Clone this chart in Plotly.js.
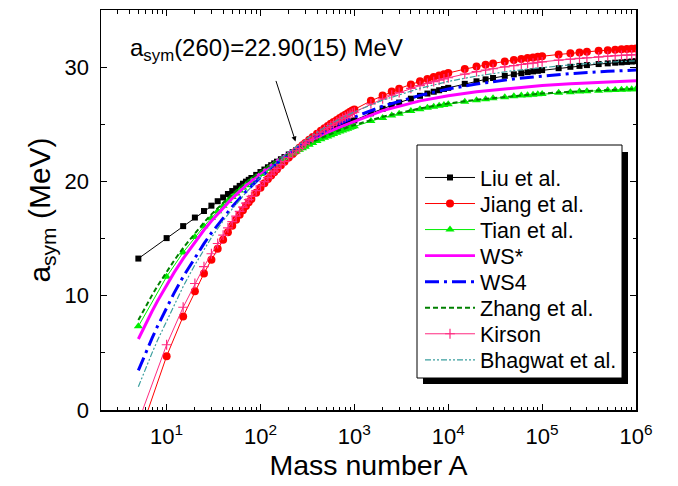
<!DOCTYPE html>
<html>
<head>
<meta charset="utf-8">
<script src="https://cdn.plot.ly/plotly-3.0.1.min.js"></script>
<style>
html,body{margin:0;padding:0;background:#fff;}
#chart{width:678px;height:486px;}
</style>
</head>
<body>
<div id="chart"></div>
<script>
// Mass numbers where the marker series are sampled
const A_mark = [5,10,15,20,25,30,35,40,45,50,55,60,65,70,75,80,90,100,110,120,130,140,150,165,180,200,220,240,260,280,300,330,360,400,440,480,520,560,600,650,700,750,800,850,900,950,1000,1500,2000,2500,3000,4000,5000,6000,7000,8000,9000,10000,15000,20000,25000,30000,40000,50000,60000,70000,80000,90000,100000,150000,200000,250000,300000,400000,500000,600000,700000,800000,900000,1000000];

const liu = [13.25,15.04,16.09,16.84,17.41,17.88,18.27,18.60,18.90,19.16,
  19.39,19.61,19.80,19.98,20.14,20.30,
  20.57,20.82,21.04,21.24,21.42,21.58,21.73,
  21.94,22.13,22.36,22.56,22.74,22.90,23.05,23.19,
  23.38,23.55,23.75,23.92,24.09,24.23,24.37,24.49,
  24.63,24.75,24.87,24.98,25.08,25.18,25.26,25.34,
  25.96,26.36,26.67,26.90,27.24,27.49,27.69,27.85,27.98,28.09,
  28.19,28.54,28.76,28.93,29.05,29.24,29.37,29.47,29.56,29.63,29.68,
  29.74,29.91,30.03,30.11,30.18,30.27,30.33,30.39,30.42,30.46,30.49,
  30.52];

const jiang = [-2.45,4.71,8.19,10.38,11.95,13.15,14.10,14.89,15.56,16.13,
  16.64,17.08,17.48,17.84,18.17,18.47,
  19.00,19.45,19.85,20.21,20.52,20.81,21.07,
  21.42,21.73,22.09,22.41,22.69,22.94,23.17,23.37,
  23.65,23.89,24.18,24.43,24.66,24.86,25.04,25.20,
  25.38,25.55,25.70,25.84,25.97,26.09,26.20,26.30,
  27.05,27.52,27.86,28.12,28.49,28.76,28.97,29.13,29.26,29.38,
  29.48,29.83,30.05,30.20,30.32,30.50,30.62,30.72,30.79,30.85,30.91,
  30.95,31.11,31.22,31.29,31.34,31.43,31.48,31.53,31.56,31.59,31.62,
  31.64];

const tian = [7.32,11.67,13.79,15.13,16.08,16.81,17.40,17.87,18.28,18.63,
  18.94,19.21,19.45,19.67,19.87,20.05,
  20.37,20.65,20.90,21.11,21.30,21.48,21.64,
  21.85,22.04,22.26,22.45,22.62,22.77,22.91,23.04,
  23.21,23.36,23.53,23.68,23.82,23.94,24.05,24.15,
  24.26,24.36,24.46,24.54,24.62,24.69,24.76,24.82,
  25.28,25.56,25.77,25.93,26.16,26.32,26.44,26.54,26.62,26.69,
  26.75,26.97,27.10,27.20,27.27,27.37,27.45,27.51,27.55,27.59,27.62,
  27.65,27.75,27.81,27.86,27.89,27.94,27.98,28.00,28.02,28.04,28.06,
  28.07];

const kirson = [-1.03,5.71,8.99,11.07,12.54,13.67,14.57,15.31,15.94,16.49,
  16.96,17.38,17.76,18.10,18.40,18.69,
  19.19,19.62,19.99,20.33,20.63,20.90,21.14,
  21.47,21.76,22.10,22.40,22.67,22.90,23.12,23.31,
  23.57,23.80,24.07,24.31,24.52,24.71,24.88,25.03,
  25.21,25.36,25.51,25.64,25.76,25.87,25.97,26.07,
  26.78,27.22,27.54,27.78,28.14,28.39,28.58,28.74,28.86,28.97,
  29.07,29.39,29.60,29.75,29.86,30.03,30.14,30.23,30.30,30.36,30.41,
  30.46,30.61,30.70,30.77,30.82,30.90,30.96,31.00,31.03,31.06,31.08,
  31.10];

// Mass numbers for the line-only series
const A_line = [5,6,7,8,10,12,15,20,25,30,40,50,70,100,150,200,300,500,700,1000,2000,5000,10000,20000,50000,100000,200000,500000,1000000];

const wsStar = [6.21,7.56,8.64,9.54,10.95,12.02,13.25,14.71,15.75,16.54,17.70,18.52,19.66,20.72,21.79,22.47,23.32,24.24,24.76,25.26,26.20,27.05,27.50,27.85,28.20,28.40,28.55,28.70,28.80];
const ws4 = [3.46,5.03,6.29,7.33,8.97,10.23,11.66,13.36,14.56,15.49,16.83,17.79,19.11,20.36,21.60,22.39,23.37,24.45,25.06,25.63,26.58,27.53,28.09,28.52,28.97,29.22,29.43,29.63,29.75];
const zhang = [7.87,9.08,10.05,10.85,12.11,13.07,14.18,15.48,16.41,17.12,18.16,18.90,19.91,20.87,21.83,22.43,23.19,24.01,24.49,24.93,25.66,26.39,26.82,27.15,27.49,27.69,27.85,28.01,28.10];
const bhagwat = [2.04,3.70,5.00,6.10,7.80,9.20,10.80,12.70,14.05,15.09,16.55,17.59,19.02,20.37,21.72,22.57,23.64,24.80,25.47,26.09,27.11,28.15,28.75,29.22,29.70,29.98,30.20,30.43,30.55];

const names = ['Liu et al.','Jiang et al.','Tian et al.','WS*','WS4','Zhang et al.','Kirson','Bhagwat et al.'];
const xTickVals = [10,100,1000,10000,100000,1000000];
const xTickText = ['10<sup>1</sup>','10<sup>2</sup>','10<sup>3</sup>','10<sup>4</sup>','10<sup>5</sup>','10<sup>6</sup>'];
const yTickVals = [0,10,20,30];

const minorX = [];
for (let e = 0; e < 6; e++) for (let d = 2; d <= 9; d++) minorX.push(d * Math.pow(10, e));

const FONT = 'Liberation Sans, Arial, Helvetica, sans-serif';
const legIds = ['legend','legend2','legend3','legend4','legend5','legend6','legend7','legend8'];

const traces = [
  {x: A_mark, y: liu, name: names[0], mode: 'lines+markers',
   line: {color: '#000000', width: 1}, marker: {symbol: 'square', size: 6, color: '#000000'}},
  {x: A_mark, y: jiang, name: names[1], mode: 'lines+markers',
   line: {color: '#ff0000', width: 1}, marker: {symbol: 'circle', size: 8, color: '#ff0000'}},
  {x: A_mark, y: tian, name: names[2], mode: 'lines+markers',
   line: {color: '#00ee00', width: 1}, marker: {symbol: 'triangle-up', size: 8, color: '#00ee00'}},
  {x: A_line, y: wsStar, name: names[3], mode: 'lines',
   line: {color: '#ff00ff', width: 3}},
  {x: A_line, y: ws4, name: names[4], mode: 'lines',
   line: {color: '#0000ff', width: 3, dash: '14px,5px,3px,5px'}},
  {x: A_line, y: zhang, name: names[5], mode: 'lines',
   line: {color: '#008000', width: 2, dash: '5px,3px'}},
  {x: A_mark, y: kirson, name: names[6], mode: 'lines+markers',
   line: {color: '#ff2a80', width: 1}, marker: {symbol: 'cross-thin', size: 7, color: '#ff2a80', line: {color: '#ff2a80', width: 1.2}}},
  {x: A_line, y: bhagwat, name: names[7], mode: 'lines',
   line: {color: '#3a9e9e', width: 1.2, dash: '6px,2px,2px,2px,2px,2px'}}
];
traces.forEach((t, i) => { t.legend = legIds[i]; });

const L = 101, R = 636, T = 10, B = 410;
const px = v => (v - L) / (R - L);
const py = v => (B - v) / (B - T);

const layout = {
  width: 678, height: 486,
  margin: {l: L, r: 678 - R, t: T, b: 486 - B},
  paper_bgcolor: '#ffffff', plot_bgcolor: '#ffffff',
  font: {family: FONT, color: '#000000'},
  showlegend: true,
  xaxis: {
    type: 'log', range: [Math.log10(2), 6],
    tickmode: 'array', tickvals: xTickVals, ticktext: xTickText,
    ticks: 'inside', ticklen: 6, tickwidth: 1, tickcolor: '#000',
    minor: {tickmode: 'array', tickvals: minorX, ticks: 'inside', ticklen: 3.5, tickwidth: 1, tickcolor: '#000', showgrid: false},
    showline: true, linecolor: '#000', linewidth: 1.5, mirror: 'ticks',
    showgrid: false, zeroline: false,
    tickfont: {size: 22, family: FONT}, ticklabelstandoff: 6,
    title: {text: 'Mass number A', font: {size: 28.5, family: FONT}, standoff: 7}
  },
  yaxis: {
    range: [0, 35],
    tickmode: 'array', tickvals: yTickVals,
    ticks: 'inside', ticklen: 6, tickwidth: 1, tickcolor: '#000',
    minor: {dtick: 5, ticks: 'inside', ticklen: 3.5, tickwidth: 1, tickcolor: '#000', showgrid: false},
    showline: true, linecolor: '#000', linewidth: 1.5, mirror: 'ticks',
    showgrid: false, zeroline: false,
    tickfont: {size: 22, family: FONT}, ticklabelstandoff: 6,
    title: {text: 'a<sub>sym</sub> (MeV)', font: {size: 30, family: FONT}, standoff: 5}
  },
  shapes: [
    {type: 'rect', xref: 'paper', yref: 'paper', x0: px(423), x1: px(628), y0: py(384), y1: py(152),
     fillcolor: '#000000', line: {width: 0}, layer: 'above'},
    {type: 'rect', xref: 'paper', yref: 'paper', x0: px(417), x1: px(622), y0: py(378), y1: py(145),
     fillcolor: '#ffffff', line: {color: '#000000', width: 1}, layer: 'above'}
  ],
  annotations: [
    {xref: 'paper', yref: 'paper', x: px(128), y: py(50), xanchor: 'left', yanchor: 'middle',
     text: 'a<sub>sym</sub>(260)=22.90(15) MeV', showarrow: false, font: {size: 24, family: FONT}},
    {xref: 'x', yref: 'y', x: Math.log10(236), y: 23.5, text: '', showarrow: true,
     axref: 'pixel', ayref: 'pixel', ax: -20, ay: -62,
     arrowhead: 2, arrowsize: 1, arrowwidth: 1, arrowcolor: '#000', standoff: 0, startstandoff: 0}
  ]
};

legIds.forEach((id, i) => {
  layout[id] = {
    x: px(420), y: py(177.5 + 26.05 * i), xanchor: 'left', yanchor: 'middle',
    bgcolor: 'rgba(0,0,0,0)', borderwidth: 0,
    font: {size: 21.5, family: FONT}, itemwidth: 50
  };
});

Plotly.newPlot('chart', traces, layout, {displayModeBar: false, staticPlot: true});
</script>
</body>
</html>
